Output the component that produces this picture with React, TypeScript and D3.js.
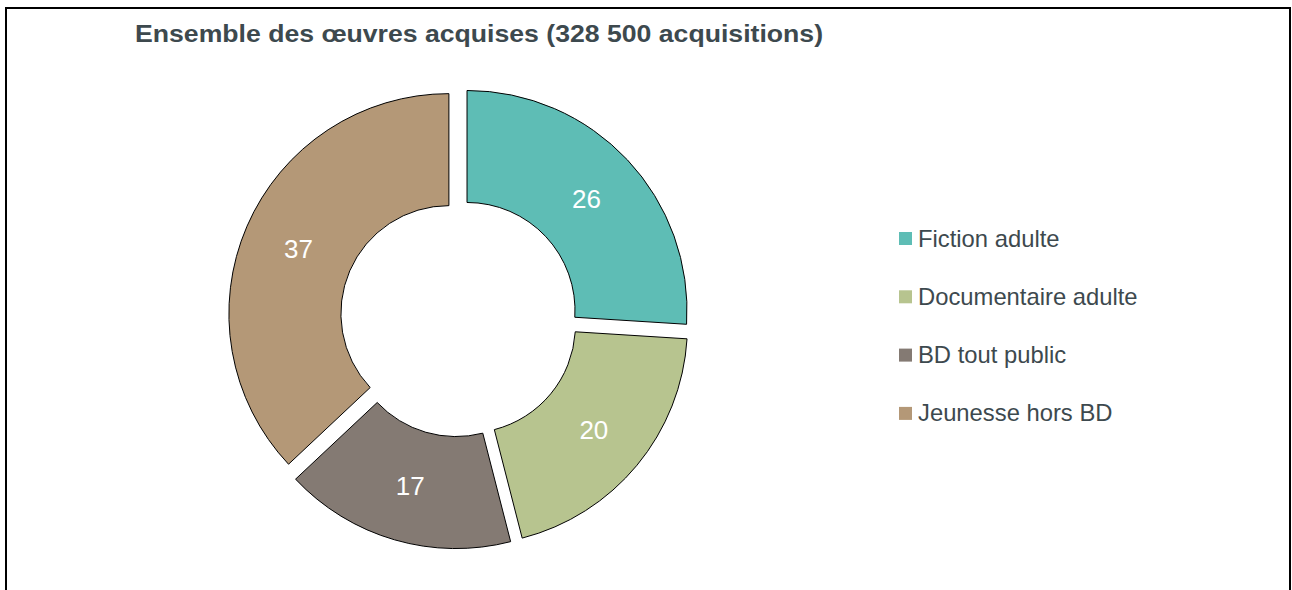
import * as d3 from "d3";
import { useRef, useEffect } from "react";

const categories = ["Fiction adulte", "Documentaire adulte", "BD tout public", "Jeunesse hors BD"];
const values = [26, 20, 17, 37];
const colors = ["#5ebdb5", "#b7c48f", "#847a73", "#b49877"];
const title = "Ensemble des œuvres acquises (328 500 acquisitions)";

const W = 1292;
const H = 590;
const FONT = "'Liberation Sans', Arial, sans-serif";

export default function App() {
  const ref = useRef<SVGSVGElement>(null);

  useEffect(() => {
    const svg = d3.select(ref.current);
    svg.selectAll("*").remove();

    // outer frame
    svg.append("rect")
      .attr("x", 6).attr("y", 8)
      .attr("width", 1284).attr("height", 700)
      .attr("fill", "#fff")
      .attr("stroke", "#000")
      .attr("stroke-width", 2);

    svg.append("text")
      .attr("x", 135).attr("y", 42)
      .attr("font-family", FONT)
      .attr("font-size", 24.5)
      .attr("font-weight", "bold")
      .attr("fill", "#3d494e")
      .attr("textLength", 688)
      .attr("lengthAdjust", "spacingAndGlyphs")
      .text(title);

    const cx = 459, cy = 318, R = 220, r = 108, explode = 11;
    const data = categories.map((c, i) => ({ name: c, value: values[i], color: colors[i] }));
    const pie = d3.pie<any>().sort(null).value(d => d.value);
    const arc = d3.arc<any>().innerRadius(r).outerRadius(R);
    const labelArc = d3.arc<any>().innerRadius((R + r) / 2).outerRadius((R + r) / 2);

    const g = svg.append("g").attr("transform", `translate(${cx},${cy})`);
    const slices = g.selectAll("g.slice")
      .data(pie(data))
      .join("g")
      .attr("class", "slice")
      .attr("transform", d => {
        const a = (d.startAngle + d.endAngle) / 2;
        return `translate(${explode * Math.sin(a)},${-explode * Math.cos(a)})`;
      });

    slices.append("path")
      .attr("d", arc)
      .attr("fill", d => d.data.color)
      .attr("stroke", "#000")
      .attr("stroke-width", 1);

    slices.append("text")
      .attr("transform", d => `translate(${labelArc.centroid(d)})`)
      .attr("text-anchor", "middle")
      .attr("dy", "0.36em")
      .attr("font-family", FONT)
      .attr("font-size", 26)
      .attr("fill", "#fff")
      .text(d => d.data.value);

    const legend = svg.append("g")
      .selectAll("g")
      .data(data)
      .join("g")
      .attr("transform", (d, i) => `translate(899,${232 + i * 58.3})`);

    legend.append("rect")
      .attr("width", 13).attr("height", 13)
      .attr("fill", d => d.color);

    legend.append("text")
      .attr("x", 19).attr("y", 14.5)
      .attr("font-family", FONT)
      .attr("font-size", 23.8)
      .attr("fill", "#3d494e")
      .text(d => d.name);
  }, []);

  return (
    <svg ref={ref} width={W} height={H}
      style={{ position: "absolute", left: 0, top: 0, display: "block" }} />
  );
}
